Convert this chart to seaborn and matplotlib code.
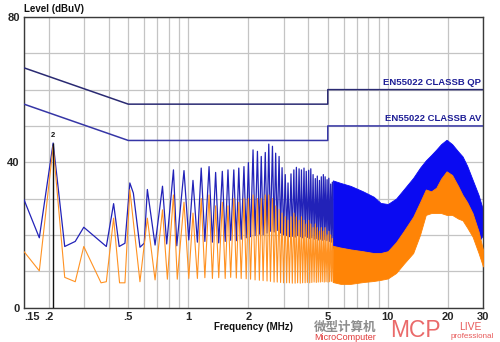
import matplotlib
matplotlib.use("Agg")
import matplotlib.pyplot as plt
from matplotlib.ticker import NullFormatter, FixedLocator
import seaborn as sns

# ---- limit lines (EN55022 class B) ----
qp_f = [0.15, 0.5, 5.0, 5.0, 30.0]
qp_db = [66, 56, 56, 60, 60]
av_f = [0.15, 0.5, 5.0, 5.0, 30.0]
av_db = [56, 46, 46, 50, 50]

# ---- low-frequency sweep points (MHz, dBuV) ----
blue_low_f = [0.150, 0.179, 0.210, 0.240, 0.271, 0.299, 0.388, 0.422, 0.450, 0.481,
              0.509, 0.530, 0.572, 0.601, 0.623, 0.681, 0.742, 0.779, 0.842, 0.875,
              0.951, 1.005, 1.055, 1.110]
blue_low_db = [29.7, 19.2, 45.3, 16.8, 18.2, 22.1, 16.8, 28.6, 16.8, 17.7,
               34.3, 31.5, 16.6, 17.7, 32.5, 17.2, 33.4, 17.5, 37.9, 17.0,
               37.7, 18.6, 35.0, 18.0]
orange_low_f = [0.150, 0.179, 0.210, 0.240, 0.271, 0.299, 0.365, 0.388, 0.422, 0.452,
                0.481, 0.509, 0.572, 0.623, 0.681, 0.742, 0.785, 0.842, 0.880, 0.951,
                1.005, 1.055, 1.110]
orange_low_db = [15.4, 10.1, 44.4, 8.3, 7.1, 16.8, 6.8, 7.1, 24.6, 6.8,
                 6.8, 32.4, 7.1, 24.6, 7.6, 26.9, 7.8, 31.0, 7.8, 29.0,
                 8.0, 26.0, 8.0]

# ---- harmonic comb 1.1 - 5.3 MHz ----
comb_peak_f = [1.16, 1.27, 1.37, 1.48, 1.58, 1.69, 1.79, 1.90, 2.00, 2.11,
               2.22, 2.32, 2.43, 2.53, 2.64, 2.74, 2.85, 2.95, 3.06, 3.16,
               3.27, 3.38, 3.48, 3.59, 3.69, 3.80, 3.90, 4.01, 4.11, 4.22,
               4.33, 4.43, 4.54, 4.64, 4.75, 4.85, 4.96, 5.06, 5.17, 5.27]
comb_valley_f = [1.21, 1.32, 1.42, 1.53, 1.63, 1.74, 1.84, 1.95, 2.05, 2.16,
                 2.27, 2.37, 2.48, 2.58, 2.69, 2.79, 2.90, 3.00, 3.11, 3.21,
                 3.32, 3.43, 3.53, 3.64, 3.74, 3.85, 3.95, 4.06, 4.16, 4.27,
                 4.38, 4.48, 4.59, 4.69, 4.80, 4.90, 5.01, 5.11, 5.22, 5.32]
blue_comb_peak = [38.4, 38.8, 37.2, 37.5, 37.9, 37.9, 38.4, 38.8, 39.9, 43.4,
                  43.0, 41.6, 42.7, 45.0, 44.4, 42.5, 41.6, 38.5, 36.6, 34.3,
                  36.8, 37.9, 38.6, 38.2, 37.9, 38.4, 37.5, 37.8, 38.2, 36.6,
                  35.5, 36.2, 35.0, 36.0, 36.6, 36.0, 35.2, 35.6, 34.0, 34.5]
blue_comb_valley = [18.2, 18.0, 17.8, 18.2, 18.5, 18.4, 18.8, 19.2, 19.5, 19.8,
                    20.2, 20.0, 20.5, 21.0, 20.8, 21.2, 20.5, 20.0, 19.8, 19.5,
                    19.6, 19.4, 19.8, 19.5, 19.2, 19.6, 19.3, 19.0, 19.2, 18.8,
                    19.0, 18.6, 18.8, 18.5, 18.7, 18.4, 18.5, 18.2, 18.0, 18.0]
orange_comb_peak = [30, 31, 28, 29, 28, 30, 29, 30, 30, 31,
                    30, 30, 31, 31, 30, 28, 27, 26, 25, 24,
                    25, 26, 25, 24, 25, 24, 23, 24, 23, 22,
                    23, 22, 21, 22, 21, 22, 20, 21, 20, 19]
orange_comb_valley = [8.2, 8.0, 8.2, 8.0, 8.3, 8.1, 8.0, 7.9, 7.8, 7.6,
                      7.5, 7.4, 7.3, 7.2, 7.0, 7.0, 6.9, 6.8, 6.8, 6.8,
                      6.7, 6.7, 6.8, 6.7, 6.8, 6.8, 6.9, 6.8, 6.9, 7.0,
                      6.9, 7.0, 7.0, 7.1, 7.0, 7.1, 7.0, 7.1, 7.2, 7.0]

# ---- dense band 5.3 - 30 MHz (envelopes) ----
band_f = [5.3, 5.8, 6.5, 7.5, 8.5, 9.2, 10, 11, 12, 13.4, 14.5, 15.5,
          16.5, 17.5, 18.5, 19.7, 21, 22.5, 23.7, 25, 26.6, 28.5, 30]
blue_hi = [35, 34.3, 33.5, 32, 30.5, 28.8, 28.5, 30, 32.5, 35.7, 38.5, 40.5,
           42, 43.5, 45, 46.2, 45, 43, 41.6, 39, 35.2, 31, 26.9]
blue_lo = [16.5, 16.5, 16, 15.5, 15, 15, 15.5, 17, 19.5, 23, 27, 29,
           29, 30, 32, 34, 33, 30, 28, 25, 22, 18, 20]
orange_hi = [17, 16.5, 16, 15.5, 15, 15, 15.5, 18, 21, 25, 29, 32.5,
             32, 33, 35.5, 37.5, 36.5, 33.5, 31, 29, 26, 21, 15.9]
orange_lo = [7, 6.5, 6.5, 7, 7.3, 7.6, 8, 9.5, 12, 15, 20, 25.5,
             26, 26, 26, 25.5, 25.5, 24.5, 24, 22, 19.5, 15, 11.3]

# ---- marker ----
marker_f = 0.210
marker_db = 45.3
marker_label = "2"

x_ticks = [0.15, 0.2, 0.5, 1, 2, 5, 10, 20, 30]
x_tick_labels = [".15", ".2", ".5", "1", "2", "5", "10", "20", "30"]
x_grid_minor = [0.3, 0.4, 0.6, 0.7, 0.8, 0.9, 3, 4, 6, 7, 8, 9]
y_ticks = [0, 40, 80]


def interleave(a, b):
    out = []
    for p, q in zip(a, b):
        out += [p, q]
    return out


blue_x = blue_low_f + interleave(comb_peak_f, comb_valley_f)
blue_y = blue_low_db + interleave(blue_comb_peak, blue_comb_valley)
orange_x = orange_low_f + interleave(comb_peak_f, comb_valley_f)
orange_y = orange_low_db + interleave(orange_comb_peak, orange_comb_valley)

sns.set_style("white")
plt.rcParams['font.family'] = ['Liberation Sans', 'DejaVu Sans']

W, H = 500, 342
fig = plt.figure(figsize=(W / 100, H / 100), dpi=100)
ax = fig.add_axes([24 / W, 1 - 307.5 / H, (483 - 24) / W, (307.5 - 17) / H])
ax.set_xscale('log')
ax.set_xlim(0.15, 30)
ax.set_ylim(0, 80)

# grid
ax.xaxis.set_major_locator(FixedLocator(x_ticks))
ax.xaxis.set_minor_locator(FixedLocator(x_grid_minor))
ax.xaxis.set_minor_formatter(NullFormatter())
ax.set_xticklabels(x_tick_labels)
ax.yaxis.set_major_locator(FixedLocator(y_ticks))
ax.yaxis.set_minor_locator(FixedLocator(list(range(10, 80, 10))))
ax.grid(which='both', color='#c4c4c4', lw=0.9)
ax.set_axisbelow(True)
ax.tick_params(which='both', length=0, labelsize=8, pad=3)
for lab in ax.get_xticklabels() + ax.get_yticklabels():
    lab.set_fontweight('bold')
ax.get_xticklabels()[0].set_ha('left')
for sp in ax.spines.values():
    sp.set_color('#3a3a3a')
    sp.set_linewidth(1.0)

BLUE_LINE = '#2222b8'
BLUE_FILL = '#0a0af2'
ORANGE_LINE = '#ff9222'
ORANGE_FILL = '#ff8406'

# measured traces
ax.fill_between(band_f, blue_lo, blue_hi, color=BLUE_FILL, lw=0.6, zorder=2)
sns.lineplot(x=blue_x, y=blue_y, sort=False, estimator=None, color=BLUE_LINE,
             lw=0.9, ax=ax, zorder=3)
sns.lineplot(x=orange_x, y=orange_y, sort=False, estimator=None, color=ORANGE_LINE,
             lw=0.8, ax=ax, zorder=4)
ax.fill_between(band_f, orange_lo, orange_hi, color=ORANGE_FILL, lw=0.6, zorder=4)

# limit lines
sns.lineplot(x=qp_f, y=qp_db, sort=False, estimator=None, color='#2a2a72', lw=1.1, ax=ax, zorder=5)
sns.lineplot(x=av_f, y=av_db, sort=False, estimator=None, color='#3636a6', lw=1.1, ax=ax, zorder=5)
ax.text(29.3, qp_db[-1] + 0.8, "EN55022 CLASSB QP", ha='right', va='bottom',
        fontsize=6.8, fontweight='bold', color='#1e1e96', zorder=6)
ax.text(29.3, av_db[-1] + 0.8, "EN55022 CLASSB AV", ha='right', va='bottom',
        fontsize=6.8, fontweight='bold', color='#1e1e96', zorder=6)

# marker
ax.vlines(marker_f, 0, marker_db, color='#111111', lw=1.0, zorder=6)
ax.text(marker_f, marker_db + 1.2, marker_label, ha='center', va='bottom',
        fontsize=5.5, fontweight='bold', color='#111111', zorder=6)

ax.set_xlabel("")
ax.set_ylabel("")

# axis titles
fig.text(24 / W, 1 - 8.5 / H, "Level (dBuV)", ha='left', va='center',
         fontsize=7, fontweight='bold', color='#111111')
fig.text(253 / W, 1 - 327 / H, "Frequency (MHz)", ha='center', va='center',
         fontsize=7, fontweight='bold', color='#111111')

# publisher mark
fig.text(345 / W, 1 - 327 / H, "微型计算机", ha='center', va='center', fontsize=9,
         fontweight='bold', color='#8c8c8c', family=['Noto Sans CJK SC', 'DejaVu Sans'])
fig.text(345 / W, 1 - 337.5 / H, "MicroComputer", ha='center', va='center', fontsize=6.5,
         color='#e03a3a')
fig.text(390 / W, 1 - 342 / H, "MCP", ha='left', va='bottom', fontsize=16.5,
         color='#e85a5a', alpha=0.9)
fig.text(470 / W, 1 - 326.5 / H, "LIVE", ha='center', va='center', fontsize=7.5,
         color='#e85a5a')
fig.text(472 / W, 1 - 336.5 / H, "professional", ha='center', va='center', fontsize=5.8,
         color='#e85a5a')

fig.savefig("out.png", dpi=100, facecolor='white')
